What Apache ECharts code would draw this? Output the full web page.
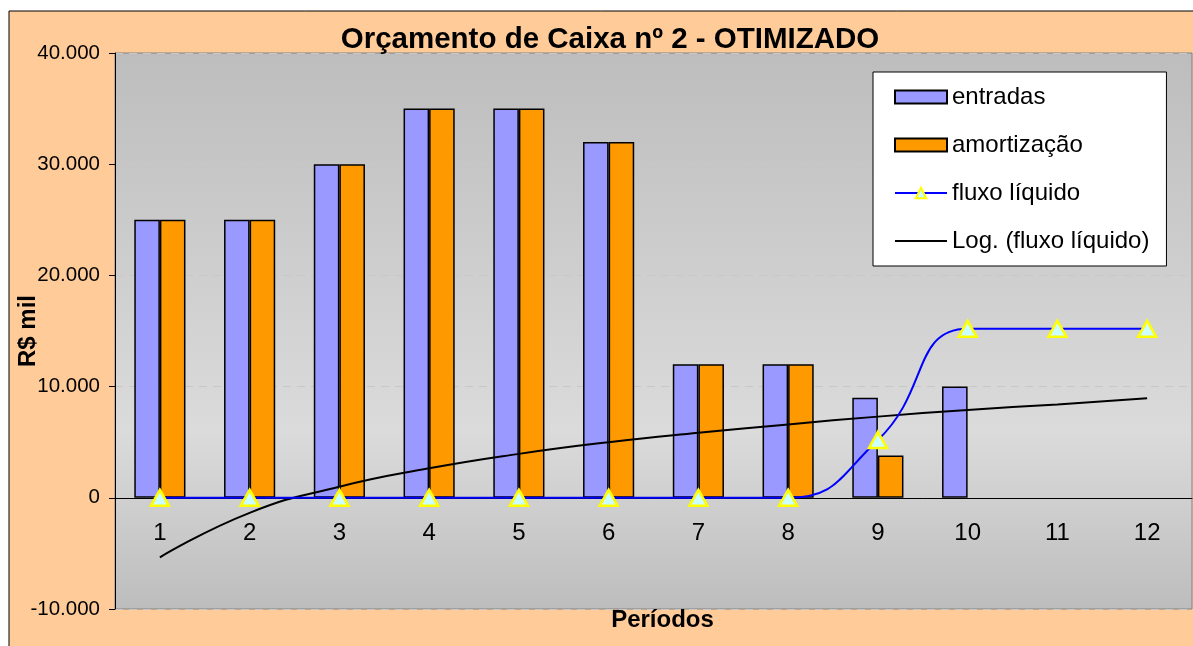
<!DOCTYPE html>
<html>
<head>
<meta charset="utf-8">
<script src="https://cdn.jsdelivr.net/npm/echarts@6/dist/echarts.min.js"></script>
<style>
  html, body { margin: 0; padding: 0; background: #fff; }
  #main { width: 1193px; height: 646px; }
</style>
</head>
<body>
<div id="main"></div>
<script>
var categories = ['1', '2', '3', '4', '5', '6', '7', '8', '9', '10', '11', '12'];
var entradas = [25000, 25000, 30000, 35000, 35000, 32000, 12000, 12000, 9000, 10000, null, null];
var amortizacao = [25000, 25000, 30000, 35000, 35000, 32000, 12000, 12000, 3800, null, null, null];
var fluxoLiquido = [0, 0, 0, 0, 0, 0, 0, 0, 5200, 15200, 15200, 15200];
// log trendline of fluxo liquido
var logFluxo = [-5350, -1350, 1000, 2650, 3950, 5000, 5850, 6600, 7300, 7900, 8400, 8950];

var font = 'Liberation Sans, Arial, sans-serif';
// x axis sits on the zero line: plot is 556px tall for 50.000, zero is 10.000 above the bottom
var zeroOffset = -556 / 5;

function fmt(v) {
  var s = String(Math.abs(v)).replace(/\B(?=(\d{3})+(?!\d))/g, '.');
  return (v < 0 ? '-' : '') + s;
}

var chartDom = document.getElementById('main');
var myChart = echarts.init(chartDom);
var option;

option = {
  animation: false,
  textStyle: { fontFamily: font },
  graphic: [
    {
      type: 'rect',
      z: -10,
      shape: { x: 9, y: 11, width: 1300, height: 700 },
      style: { fill: '#ffcc99', stroke: '#000', lineWidth: 1 }
    }
  ],
  title: {
    text: 'Orçamento de Caixa nº 2 - OTIMIZADO',
    left: 605,
    textAlign: 'center',
    top: 20,
    textStyle: { fontFamily: font, fontSize: 29.5, fontWeight: 'bold', color: '#000' }
  },
  legend: {
    orient: 'vertical',
    left: 873,
    top: 72,
    padding: [13, 17, 13, 21],
    itemWidth: 52,
    itemHeight: 13,
    itemGap: 24,
    backgroundColor: '#fff',
    borderColor: '#000',
    borderWidth: 1,
    textStyle: { fontFamily: font, fontSize: 24, color: '#000', lineHeight: 24 },
    data: [
      { name: 'entradas', icon: 'rect' },
      { name: 'amortização', icon: 'rect' },
      { name: 'fluxo líquido' },
      { name: 'Log. (fluxo líquido)', icon: 'path://M0,0 M0,13 M0,5.5 L52,5.5 L52,7.5 L0,7.5 Z' }
    ]
  },
  grid: {
    left: 115,
    top: 53,
    right: 1,
    bottom: 37,
    outerBoundsMode: 'none',
    show: true,
    borderColor: '#808080',
    borderWidth: 1,
    backgroundColor: new echarts.graphic.LinearGradient(0, 0, 0, 1, [
      { offset: 0, color: '#bdbdbd' },
      { offset: 0.68, color: '#dbdbdb' },
      { offset: 1, color: '#bdbdbd' }
    ])
  },
  xAxis: [
    {
      type: 'category',
      data: categories,
      position: 'bottom',
      offset: zeroOffset,
      name: 'Períodos',
      nameLocation: 'middle',
      nameGap: 111,
      nameMoveOverlap: false,
      nameTextStyle: { fontFamily: font, fontSize: 24, fontWeight: 'bold', color: '#000', padding: [0, 0, 0, 18] },
      axisLine: { onZero: false, lineStyle: { color: '#000', width: 1 } },
      axisTick: { length: 7, lineStyle: { color: '#000' } },
      axisLabel: { margin: 24, fontFamily: font, fontSize: 24, color: '#000' }
    },
    {
      type: 'category',
      data: categories,
      position: 'bottom',
      offset: zeroOffset,
      axisLine: { show: false, onZero: false },
      axisTick: { inside: true, length: 7, lineStyle: { color: '#000' } },
      axisLabel: { show: false }
    }
  ],
  yAxis: [
    {
      type: 'value',
      min: -10000,
      max: 40000,
      interval: 10000,
      name: 'R$ mil',
      nameLocation: 'middle',
      nameGap: 75,
      nameMoveOverlap: false,
      nameTextStyle: { fontFamily: font, fontSize: 24, fontWeight: 'bold', color: '#000' },
      axisLine: { show: true, lineStyle: { color: '#000', width: 1 } },
      axisTick: { show: true, length: 6, lineStyle: { color: '#000' } },
      axisLabel: { margin: 15, fontFamily: font, fontSize: 20.5, color: '#000', formatter: fmt },
      splitLine: { show: true, lineStyle: { color: '#c8c8c8', type: [8, 6] } }
    }
  ],
  series: [
    {
      name: 'entradas',
      type: 'bar',
      data: entradas,
      barGap: '0%',
      barCategoryGap: '43%',
      itemStyle: { color: '#9999ff', borderColor: '#000', borderWidth: 1.5 }
    },
    {
      name: 'amortização',
      type: 'bar',
      data: amortizacao,
      itemStyle: { color: '#ff9900', borderColor: '#000', borderWidth: 1.5 }
    },
    {
      name: 'Log. (fluxo líquido)',
      type: 'line',
      data: logFluxo,
      smooth: true,
      symbol: 'none',
      z: 3,
      lineStyle: { color: '#000', width: 2 },
      itemStyle: { color: '#000' }
    },
    {
      name: 'fluxo líquido',
      type: 'line',
      data: fluxoLiquido,
      smooth: true,
      symbol: 'triangle',
      symbolSize: [18, 16],
      z: 4,
      lineStyle: { color: '#0000ff', width: 2 },
      itemStyle: { color: '#ccffff', borderColor: '#ffff00', borderWidth: 2.5 }
    }
  ]
};

option && myChart.setOption(option);
</script>
</body>
</html>
